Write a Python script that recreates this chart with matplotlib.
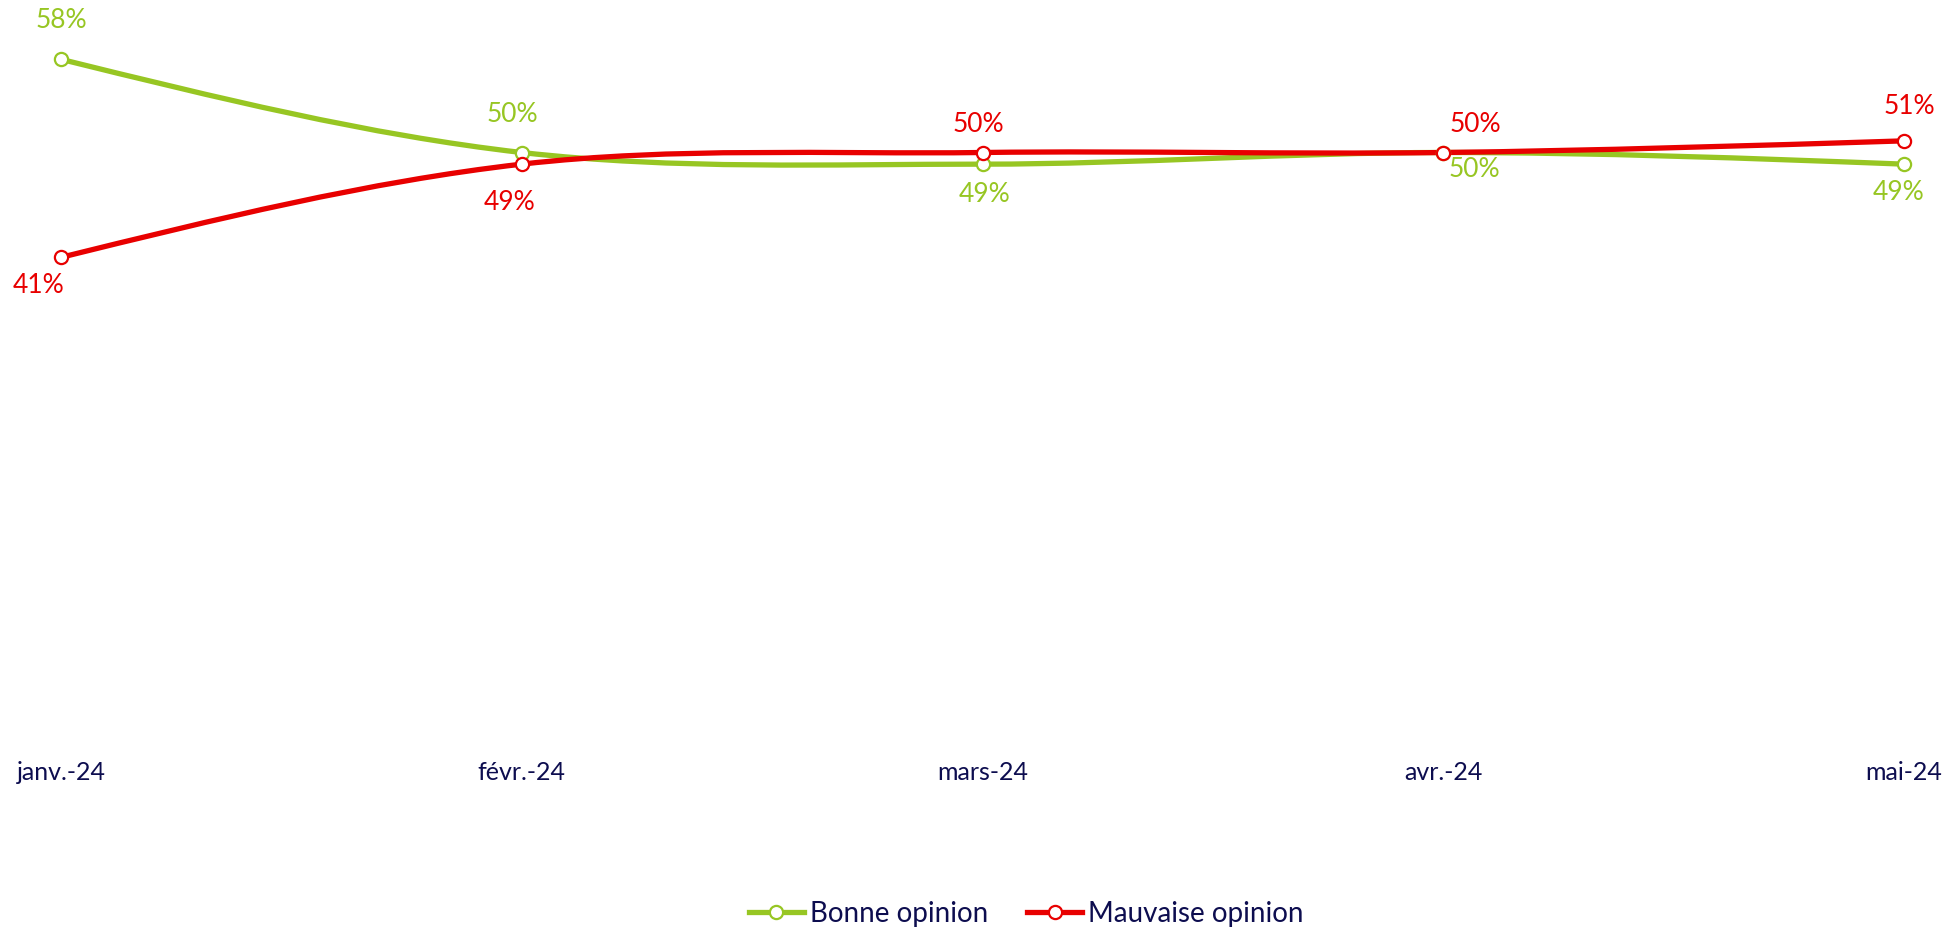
import numpy as np
import matplotlib
matplotlib.use("Agg")
import matplotlib.pyplot as plt
from matplotlib.path import Path
from matplotlib.patches import PathPatch
from matplotlib.lines import Line2D

# data
months = ["janv.-24", "févr.-24", "mars-24", "avr.-24", "mai-24"]
bonne = [58, 50, 49, 50, 49]
mauvaise = [41, 49, 50, 50, 51]

# label offsets in pixels (dx, dy), dy positive = down, like the picture
bonne_offsets = [(0, -39), (-9, -38), (2, 30), (31, 17), (-5, 28)]
mauvaise_offsets = [(-22, 28), (-12, 38), (-4, -28), (32, -28), (5, -34)]

green = "#97C623"
red = "#E80000"
navy = "#0D0D4F"

plt.rcParams['font.family'] = ['Lato', 'DejaVu Sans']


def spline_path(xs, ys):
    # catmull-rom tangents inside, natural ends, drawn as cubic bezier
    n = len(xs)
    t = [0.0] * n
    for i in range(1, n - 1):
        t[i] = (ys[i + 1] - ys[i - 1]) / (xs[i + 1] - xs[i - 1])
    s0 = (ys[1] - ys[0]) / (xs[1] - xs[0])
    sn = (ys[-1] - ys[-2]) / (xs[-1] - xs[-2])
    t[0] = (3 * s0 - t[1]) / 2
    t[-1] = (3 * sn - t[-2]) / 2
    verts = [(xs[0], ys[0])]
    codes = [Path.MOVETO]
    for i in range(n - 1):
        h = xs[i + 1] - xs[i]
        verts += [(xs[i] + h / 3, ys[i] + t[i] * h / 3),
                  (xs[i + 1] - h / 3, ys[i + 1] - t[i + 1] * h / 3),
                  (xs[i + 1], ys[i + 1])]
        codes += [Path.CURVE4] * 3
    return Path(verts, codes)


W, H = 1955, 932
fig = plt.figure(figsize=(W / 100, H / 100), dpi=100)
x0, x1 = 61, 1904
y_bottom, y_top = 735, 36
ax = fig.add_axes([x0 / W, 1 - y_bottom / H, (x1 - x0) / W, (y_bottom - y_top) / H])
ax.set_xlim(0, len(months) - 1)
ax.set_ylim(0, 60)

xs = np.arange(len(months))
lw = 3.8

series = [(bonne, green, bonne_offsets, 3), (mauvaise, red, mauvaise_offsets, 4)]
for vals, col, offs, z in series:
    p = spline_path(list(xs), list(vals))
    ax.add_patch(PathPatch(p, facecolor="none", edgecolor=col, lw=lw,
                           zorder=z, clip_on=False, capstyle="round"))
for vals, col, offs, z in series:
    ax.plot(xs, vals, linestyle="none", marker="o", markersize=9.5,
            markerfacecolor="white", markeredgecolor=col, markeredgewidth=1.6,
            zorder=6, clip_on=False)
    for i, v in enumerate(vals):
        dx, dy = offs[i]
        ax.annotate(f"{v}%", (xs[i], v), xytext=(dx * 0.72, -dy * 0.72),
                    textcoords="offset points", ha="center", va="center",
                    fontsize=19, color=col, zorder=7)

ax.set_xticks(xs)
ax.set_xticklabels(months)
ax.tick_params(axis="x", length=0, pad=19, labelsize=18, labelcolor=navy)
ax.set_yticks([])
for s in ax.spines.values():
    s.set_visible(False)

handles = [
    Line2D([0], [0], color=green, lw=lw, marker="o", markersize=9.5,
           markerfacecolor="white", markeredgecolor=green, markeredgewidth=1.6),
    Line2D([0], [0], color=red, lw=lw, marker="o", markersize=9.5,
           markerfacecolor="white", markeredgecolor=red, markeredgewidth=1.6),
]
leg = fig.legend(handles, ["Bonne opinion", "Mauvaise opinion"], loc="center",
                 bbox_to_anchor=(1026 / W, 1 - 914 / H), ncol=2, frameon=False,
                 fontsize=20, handlelength=2.0, handletextpad=0.2, columnspacing=1.4)
for t in leg.get_texts():
    t.set_color(navy)

fig.savefig("out.png", dpi=100)
